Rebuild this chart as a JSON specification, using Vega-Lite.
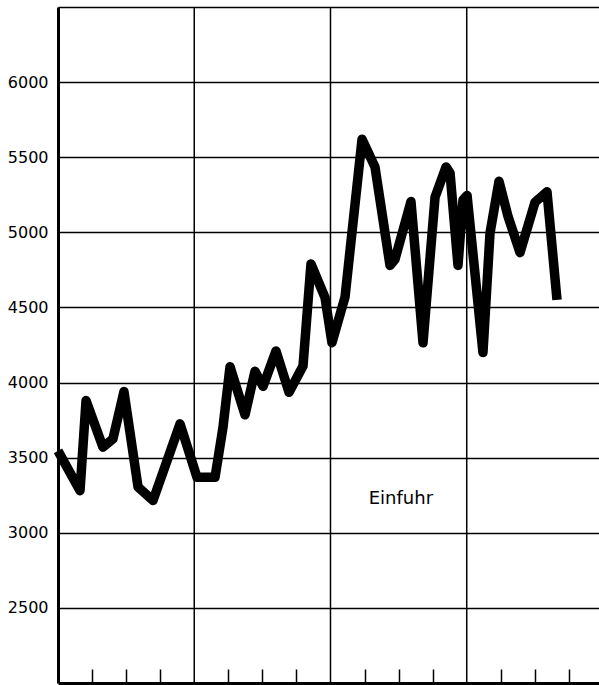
{
  "$schema": "https://vega.github.io/schema/vega-lite/v6.json",
  "width": 541,
  "height": 676,
  "autosize": {"type": "none"},
  "padding": {"left": 58, "top": 7, "right": 0, "bottom": 2},
  "background": "white",
  "config": {
    "view": {"stroke": null},
    "font": "DejaVu Sans"
  },
  "datasets": {
    "einfuhr": [
      {"t": 0.0, "v": 3545},
      {"t": 1.94, "v": 3280},
      {"t": 2.47, "v": 3880},
      {"t": 3.96, "v": 3570},
      {"t": 4.84, "v": 3625},
      {"t": 5.81, "v": 3940},
      {"t": 7.05, "v": 3305},
      {"t": 8.37, "v": 3215},
      {"t": 10.75, "v": 3725},
      {"t": 12.24, "v": 3370},
      {"t": 13.83, "v": 3370},
      {"t": 14.53, "v": 3700},
      {"t": 15.15, "v": 4105},
      {"t": 16.47, "v": 3785},
      {"t": 17.35, "v": 4075},
      {"t": 18.06, "v": 3975},
      {"t": 19.2, "v": 4210},
      {"t": 20.35, "v": 3935},
      {"t": 21.58, "v": 4110},
      {"t": 22.28, "v": 4790},
      {"t": 23.52, "v": 4565},
      {"t": 24.13, "v": 4265},
      {"t": 25.28, "v": 4570},
      {"t": 26.78, "v": 5620},
      {"t": 27.92, "v": 5435},
      {"t": 29.24, "v": 4780},
      {"t": 29.68, "v": 4820},
      {"t": 31.09, "v": 5205},
      {"t": 32.15, "v": 4265},
      {"t": 33.21, "v": 5235},
      {"t": 34.18, "v": 5435},
      {"t": 34.53, "v": 5395},
      {"t": 35.23, "v": 4780},
      {"t": 35.67, "v": 5215},
      {"t": 36.03, "v": 5245},
      {"t": 37.43, "v": 4200},
      {"t": 38.05, "v": 4995},
      {"t": 38.84, "v": 5340},
      {"t": 39.64, "v": 5105},
      {"t": 40.69, "v": 4865},
      {"t": 42.01, "v": 5200},
      {"t": 43.07, "v": 5270},
      {"t": 43.95, "v": 4550}
    ],
    "years": [{"t": 12}, {"t": 24}, {"t": 36}],
    "labels": [{"t": 30.2, "v": 3225, "label": "Einfuhr"}]
  },
  "layer": [
    {
      "data": {"name": "years"},
      "mark": {"type": "rule", "color": "black", "strokeWidth": 1.5},
      "encoding": {
        "x": {
          "field": "t", "type": "quantitative",
          "scale": {"domain": [0, 47.65], "nice": false, "zero": false},
          "axis": {
            "values": [3, 6, 9, 15, 18, 21, 27, 30, 33, 39, 42, 45],
            "title": null, "labels": false, "grid": false,
            "tickSize": -14, "tickWidth": 1.5, "tickColor": "black",
            "domainColor": "black", "domainWidth": 3
          }
        }
      }
    },
    {
      "data": {"name": "einfuhr"},
      "mark": {"type": "line", "color": "black", "strokeWidth": 9.5, "strokeJoin": "round", "strokeCap": "butt"},
      "encoding": {
        "x": {
          "field": "t", "type": "quantitative",
          "scale": {"domain": [0, 47.65], "nice": false, "zero": false},
          "axis": {
            "values": [3, 6, 9, 15, 18, 21, 27, 30, 33, 39, 42, 45],
            "title": null, "labels": false, "grid": false,
            "tickSize": -14, "tickWidth": 1.5, "tickColor": "black",
            "domainColor": "black", "domainWidth": 3
          }
        },
        "y": {
          "field": "v", "type": "quantitative",
          "scale": {"domain": [2000, 6500], "nice": false, "zero": false},
          "axis": {
            "values": [2500, 3000, 3500, 4000, 4500, 5000, 5500, 6000, 6500],
            "labelExpr": "datum.value == 6500 ? '' : datum.label",
            "format": "d",
            "title": null, "grid": true, "gridColor": "black", "gridWidth": 1.5, "gridOpacity": 1,
            "ticks": false, "domainColor": "black", "domainWidth": 3,
            "labelFontSize": 16, "labelColor": "black", "labelPadding": 10, "labelFont": "DejaVu Sans"
          }
        }
      }
    },
    {
      "data": {"name": "labels"},
      "mark": {"type": "text", "fontSize": 18, "font": "DejaVu Sans", "color": "black", "align": "center", "baseline": "middle"},
      "encoding": {
        "x": {"field": "t", "type": "quantitative"},
        "y": {"field": "v", "type": "quantitative"},
        "text": {"field": "label"}
      }
    }
  ]
}
